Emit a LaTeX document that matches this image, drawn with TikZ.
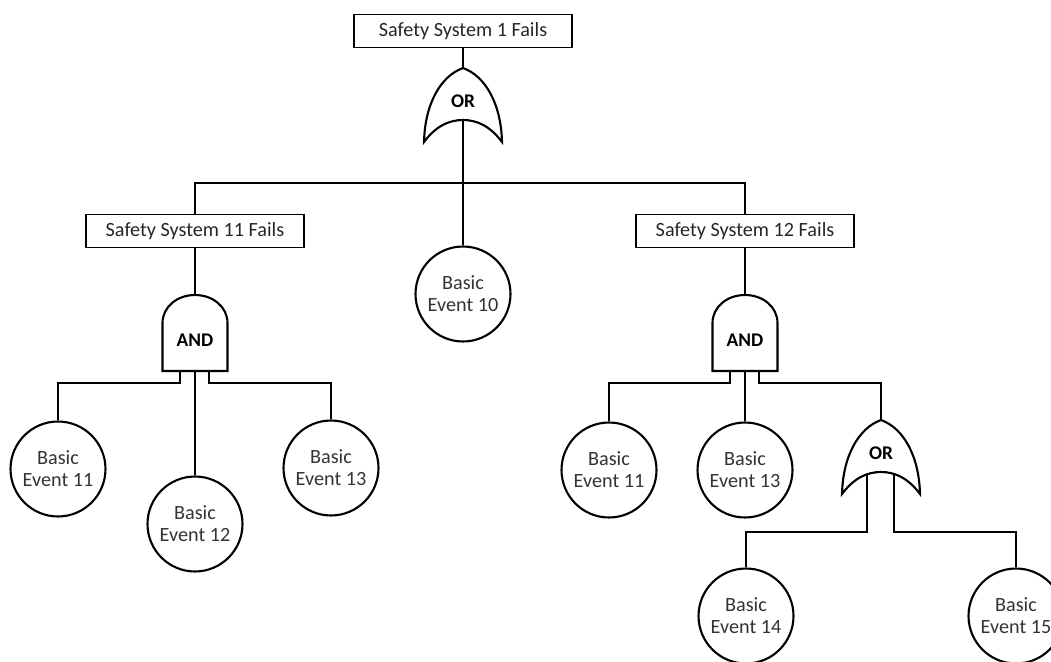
\documentclass[tikz,border=0pt]{standalone}
\usepackage{fontspec}
\setmainfont{Carlito}
\tikzset{
  conn/.style={line width=1.2pt},
  evbox/.style={draw, line width=0.9pt, rectangle, minimum width=4.36cm, minimum height=0.66cm, inner sep=0pt, font=\fontsize{11.5}{13}\selectfont, text=black!85},
  basic/.style={draw, circle, line width=1.2pt, minimum size=1.9cm, inner sep=0pt, align=center, font=\fontsize{11.5}{12.5}\selectfont, text=black!80},
  gate/.style={draw, line width=1.2pt, fill=white},
  gatelabel/.style={font=\bfseries\fontsize{11}{12}\selectfont, inner sep=0pt},
  orgate/.pic={
    \draw[gate] (-39,74) .. controls (-38,35) and (-22,8) .. (0,0)
      .. controls (22,8) and (38,35) .. (39,74)
      .. controls (27,58) and (14,52) .. (0,52)
      .. controls (-14,52) and (-27,58) .. (-39,74) -- cycle;
    \coordinate (-top) at (0,0);
    \coordinate (-apex) at (0,52);
    \coordinate (-l) at (-14,54.5);
    \coordinate (-r) at (13,54.3);
    \node[gatelabel] (-lab) at (0,33) {OR};
  },
  andgate/.pic={
    \draw[gate] (-32.5,76) -- (-32.5,28) .. controls (-32.5,12) and (-18,0) .. (0,0)
      .. controls (18,0) and (32.5,12) .. (32.5,28) -- (32.5,76) -- cycle;
    \coordinate (-top) at (0,0);
    \coordinate (-l) at (-15,76);
    \coordinate (-m) at (0,76);
    \coordinate (-r) at (14,76);
    \node[gatelabel] (-lab) at (0,45) {AND};
  }
}
\begin{document}
\begin{tikzpicture}[x=0.02cm, y=-0.02cm]
  \useasboundingbox (0,0) rectangle (1051,662);
  \clip (0,0) rectangle (1051,662);

  % events
  \node[evbox] (top) at (463,31) {Safety System 1 Fails};
  \node[evbox] (ss11) at (195,231) {Safety System 11 Fails};
  \node[evbox] (ss12) at (745,231) {Safety System 12 Fails};

  % gates
  \pic (g1) at (463,68) {orgate};
  \pic (a1) at (195,295) {andgate};
  \pic (a2) at (745,295) {andgate};
  \pic (g2) at (881,420) {orgate};

  % basic events
  \node[basic] (be10) at (463,294) {Basic\\Event 10};
  \node[basic] (be11) at (58,469) {Basic\\Event 11};
  \node[basic] (be12) at (195,524) {Basic\\Event 12};
  \node[basic] (be13) at (331,468) {Basic\\Event 13};
  \node[basic] (be11b) at (609,470) {Basic\\Event 11};
  \node[basic] (be13b) at (745,470) {Basic\\Event 13};
  \node[basic] (be14) at (746,616) {Basic\\Event 14};
  \node[basic] (be15) at (1016,616) {Basic\\Event 15};

  \coordinate (bus) at (463,183);

  % connectors
  \draw[conn] (top.south) -- (g1-top);
  \draw[conn] (g1-apex) -- (be10.north);
  \draw[conn] (ss11.north) |- (bus) -| (ss12.north);
  \draw[conn] (ss11.south) -- (a1-top);
  \draw[conn] (ss12.south) -- (a2-top);
  \draw[conn] (a1-l) -- ++(0,12) -| (be11.north);
  \draw[conn] (a1-m) -- (be12.north);
  \draw[conn] (a1-r) -- ++(0,12) -| (be13.north);
  \draw[conn] (a2-l) -- ++(0,12) -| (be11b.north);
  \draw[conn] (a2-m) -- (be13b.north);
  \draw[conn] (a2-r) -- ++(0,12) -| (g2-top);
  \draw[conn] (g2-l) -- ++(0,57.5) -| (be14.north);
  \draw[conn] (g2-r) -- ++(0,57.7) -| (be15.north);
\end{tikzpicture}
\end{document}
